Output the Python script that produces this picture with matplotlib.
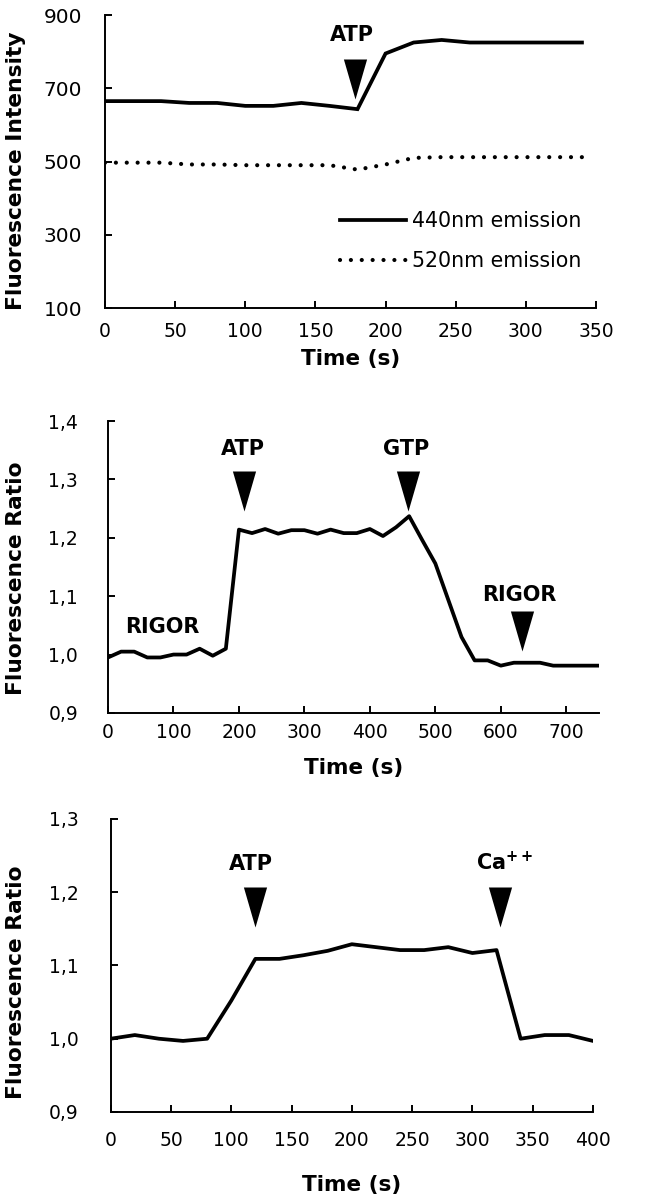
import matplotlib
matplotlib.use('Agg')
import matplotlib.pyplot as plt
from matplotlib.ticker import FuncFormatter

plt.rcParams['font.family'] = 'DejaVu Sans'
plt.rcParams['mathtext.fontset'] = 'dejavusans'

# panel 1: fluorescence intensity
t1 = [0, 20, 40, 60, 80, 100, 120, 140, 160, 180, 200, 220, 240, 260, 280, 300, 320, 340]
em440 = [665, 665, 665, 660, 660, 652, 652, 660, 652, 643, 795, 825, 832, 825, 825, 825, 825, 825]
em520 = [497, 497, 497, 492, 492, 490, 490, 490, 490, 478, 492, 510, 512, 512, 512, 512, 512, 512]

# panel 2: fluorescence ratio, ATP / GTP / rigor
t2 = [0, 20, 40, 60, 80, 100, 120, 140, 160, 180, 200, 220, 240, 260, 280, 300, 320, 340,
      360, 380, 400, 420, 440, 460, 480, 500, 520, 540, 560, 580, 600, 620, 640, 660, 680,
      700, 720, 740, 750]
ratio2 = [0.995, 1.005, 1.005, 0.995, 0.995, 1.0, 1.0, 1.01, 0.998, 1.01, 1.214, 1.208,
          1.215, 1.207, 1.213, 1.213, 1.207, 1.214, 1.208, 1.208, 1.215, 1.203, 1.218, 1.237,
          1.196, 1.156, 1.093, 1.03, 0.99, 0.99, 0.981, 0.986, 0.986, 0.986, 0.981, 0.981,
          0.981, 0.981, 0.981]

# panel 3: fluorescence ratio, ATP / Ca++
t3 = [0, 20, 40, 60, 80, 100, 120, 140, 160, 180, 200, 220, 240, 260, 280, 300, 320, 340, 360, 380, 400]
ratio3 = [1.0, 1.005, 1.0, 0.997, 1.0, 1.052, 1.109, 1.109, 1.114, 1.12, 1.129, 1.125, 1.121,
          1.121, 1.125, 1.117, 1.121, 1.0, 1.005, 1.005, 0.997]

# annotations: label, label x, label baseline y, arrow tip x, arrow tip y
ann1 = [('ATP', 176, 830, 178, 670)]
ann2 = [('ATP', 206, 1.341, 207, 1.246),
        ('GTP', 456, 1.341, 459, 1.246),
        ('RIGOR', 629, 1.092, 633, 1.006),
        ('RIGOR', 83, 1.037, None, None)]
ann3 = [('ATP', 116, 1.23, 120, 1.152),
        ('Ca$^{\\mathbf{++}}$', 327, 1.23, 323, 1.152)]

tri = [(-0.29, 1), (0.29, 1), (0, 0)]
comma = FuncFormatter(lambda v, p: ('%.1f' % v).replace('.', ','))

fig = plt.figure(figsize=(6.55, 11.94), dpi=100)
ax1 = fig.add_axes([0.1603, 0.742, 0.7496, 0.2454])
ax2 = fig.add_axes([0.1649, 0.4029, 0.7496, 0.2445])
ax3 = fig.add_axes([0.1690, 0.0687, 0.7363, 0.2454])


def style(ax, xpad, ypad, yfs):
    for s in ['top', 'right']:
        ax.spines[s].set_visible(False)
    for s in ['left', 'bottom']:
        ax.spines[s].set_linewidth(1.4)
    ax.tick_params(direction='in', length=5, width=1.4)
    ax.tick_params(axis='x', pad=xpad, labelsize=13.5)
    ax.tick_params(axis='y', pad=ypad, labelsize=yfs)
    ax.set_xlabel('Time (s)', fontsize=15.5, fontweight='bold')
    ax.yaxis.label.set_va('center')


def mark(ax, anns):
    for lab, lx, ly, tx, ty in anns:
        ax.text(lx, ly, lab, ha='center', va='baseline', fontsize=15, fontweight='bold')
        if tx is not None:
            ax.plot([tx], [ty], marker=tri, markersize=57.6, color='black',
                    markeredgewidth=0, linestyle='none', clip_on=False)


# panel 1
ax1.plot(t1, em440, color='black', lw=2.7, solid_joinstyle='miter', label='440nm emission')
ax1.plot(t1, em520, color='black', lw=3.0, linestyle=(0, (0.01, 2.6)),
         dash_capstyle='round', label='520nm emission')
ax1.set_xlim(0, 350)
ax1.set_ylim(100, 900)
ax1.set_xticks(range(0, 351, 50))
ax1.set_yticks(range(100, 901, 200))
style(ax1, 10, 16.5, 14.5)
ax1.set_ylabel('Fluorescence Intensity', fontsize=15.7, fontweight='bold')
ax1.yaxis.set_label_coords(-0.181, 0.468)
ax1.xaxis.set_label_coords(0.5, -0.14)
mark(ax1, ann1)
ax1.legend(loc='upper left', bbox_to_anchor=(0.479, 0.33), frameon=False, fontsize=14.8,
           handlelength=3.2, handletextpad=0.3, labelspacing=0.95, borderpad=0,
           borderaxespad=0)

# panel 2
ax2.plot(t2, ratio2, color='black', lw=2.7)
ax2.set_xlim(0, 750)
ax2.set_ylim(0.9, 1.4)
ax2.set_xticks(range(0, 701, 100))
ax2.set_yticks([0.9, 1.0, 1.1, 1.2, 1.3, 1.4])
ax2.yaxis.set_major_formatter(comma)
style(ax2, 7, 21.5, 13.5)
ax2.set_ylabel('Fluorescence Ratio', fontsize=15.7, fontweight='bold')
ax2.yaxis.set_label_coords(-0.187, 0.462)
ax2.xaxis.set_label_coords(0.5, -0.154)
mark(ax2, ann2)

# panel 3
ax3.plot(t3, ratio3, color='black', lw=2.7)
ax3.set_xlim(0, 400)
ax3.set_ylim(0.9, 1.3)
ax3.set_xticks(range(0, 401, 50))
ax3.set_yticks([0.9, 1.0, 1.1, 1.2, 1.3])
ax3.yaxis.set_major_formatter(comma)
style(ax3, 14, 23, 13.5)
ax3.set_ylabel('Fluorescence Ratio', fontsize=15.7, fontweight='bold')
ax3.yaxis.set_label_coords(-0.196, 0.444)
ax3.xaxis.set_label_coords(0.5, -0.215)
mark(ax3, ann3)

fig.savefig('out.png', dpi=100)
